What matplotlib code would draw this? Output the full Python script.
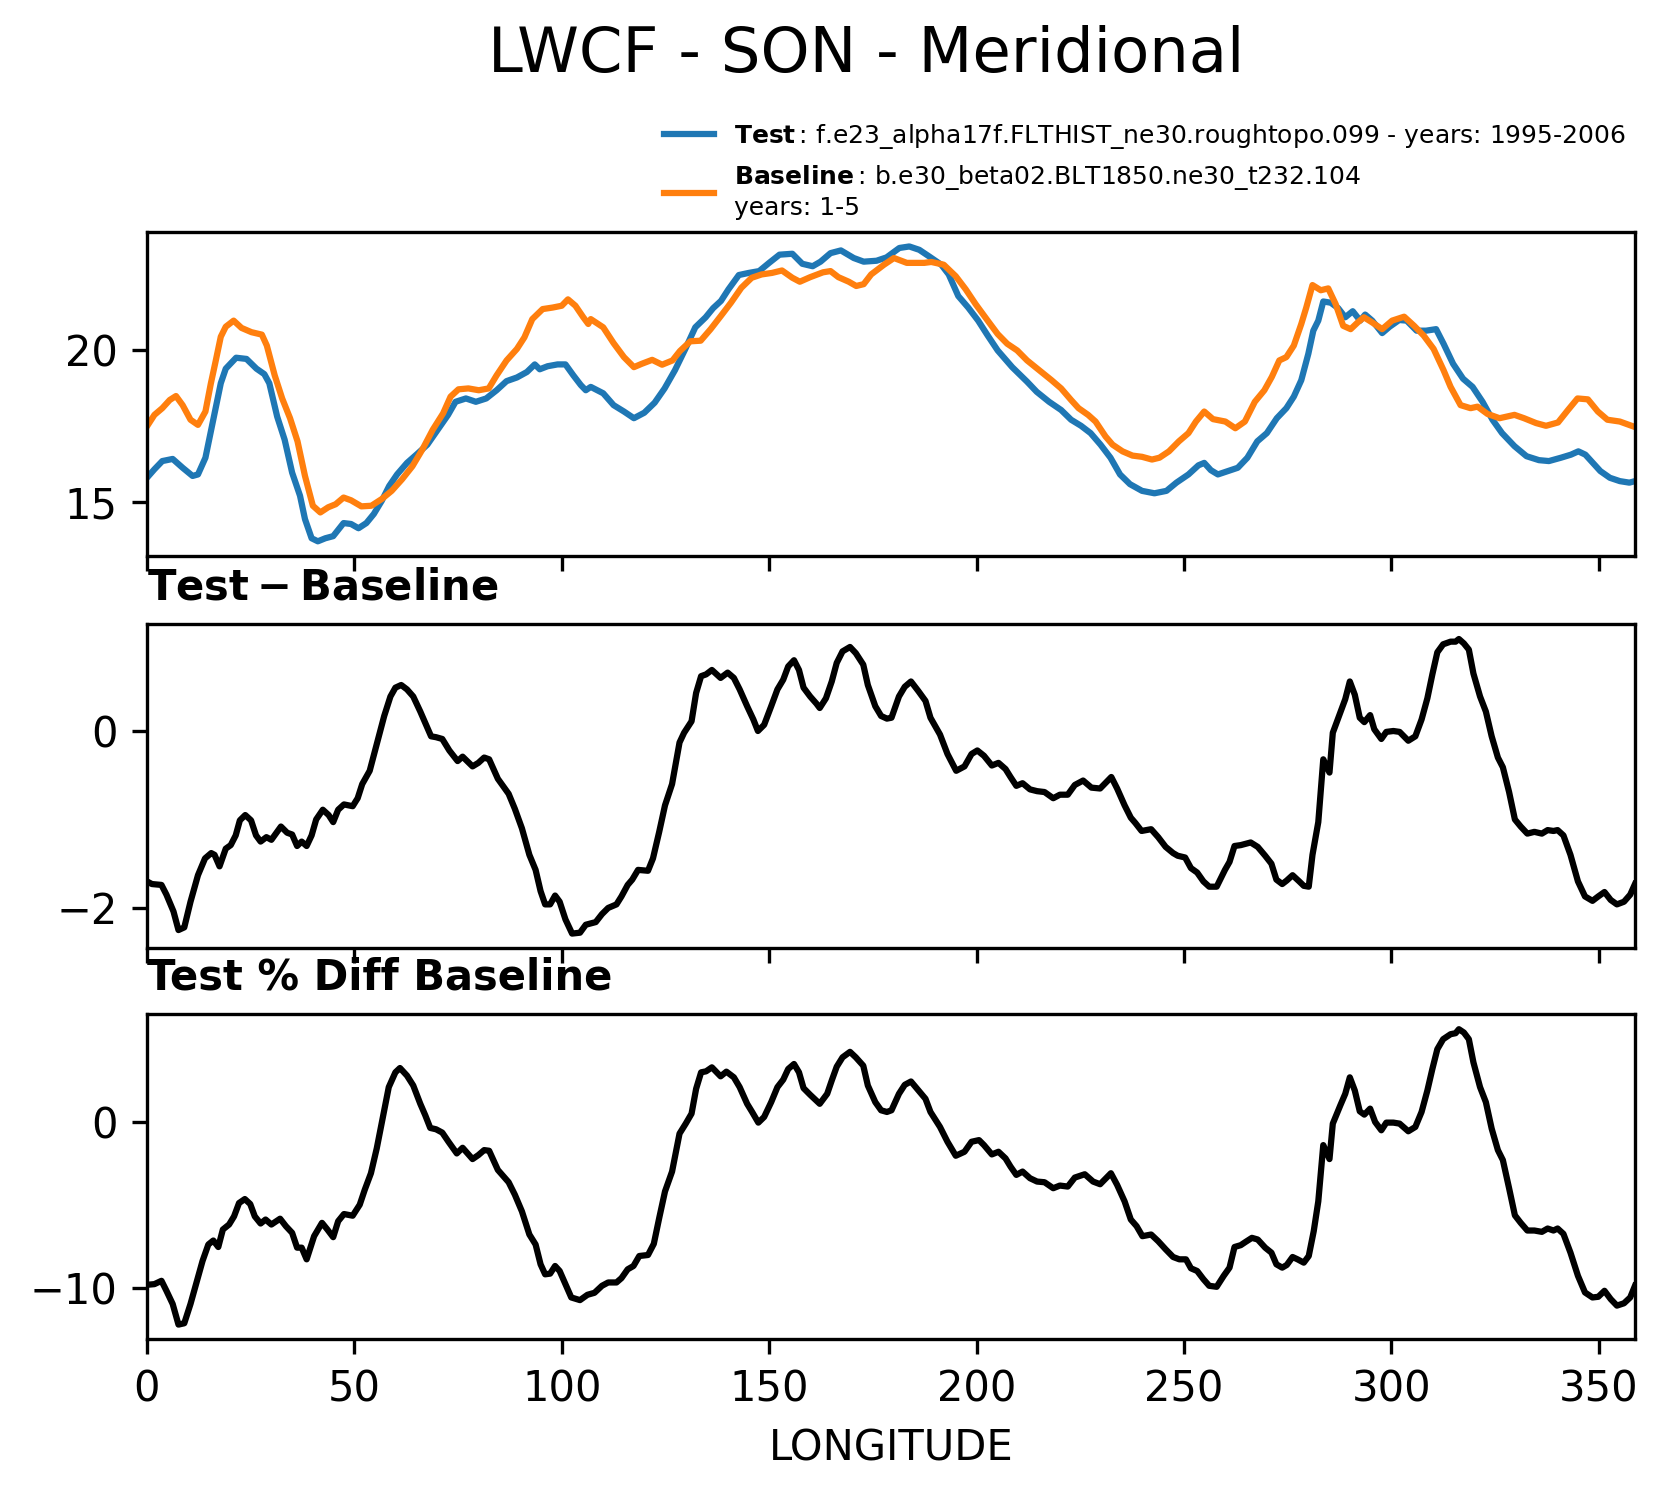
import matplotlib
matplotlib.use('Agg')
import matplotlib.pyplot as plt
import numpy as np

# longitude / LWCF (W/m2)
lon_test = [0, 1.8, 3.7, 6.2, 8.6, 11, 12.3, 14.1, 16, 17.8, 19, 21.5, 24, 26.4, 28.3, 29.5,
            31.4, 33.2, 35, 36.9, 38.1, 39.7, 41.2, 43, 44.9, 47.4, 49.2, 51, 52.9, 54.7,
            56.6, 58.4, 60.3, 62.7, 65.2, 67.6, 70.1, 72.6, 74.4, 76.9, 79.3, 81.8, 84.3,
            86.7, 89.2, 91.6, 93.5, 94.7, 96.6, 99, 100.9, 102.8, 104.6, 105.8, 107, 110,
            112.5, 115, 117.4, 119.9, 122.4, 124.8, 127.3, 129.8, 132.2, 134.7, 136.5,
            138.4, 140.2, 142.7, 145.1, 147.6, 150, 152.5, 155.6, 158, 160.5, 162.4,
            164.8, 167.3, 170.4, 172.8, 175.9, 178.3, 181.4, 183.8, 186.2, 188.5, 191.5,
            193.3, 195.6, 198, 200.4, 202.7, 205.1, 208.6, 212.2, 214.5, 217.5, 220.4,
            222.8, 225.2, 227.5, 229.9, 232.3, 234.6, 237, 239.9, 242.9, 245.8, 248.2,
            251.1, 253.5, 254.9, 256.5, 258.2, 260.6, 263, 265.3, 267.7, 270, 272.4,
            274.7, 276.5, 278.3, 280, 281.2, 282.4, 283.6, 285.4, 287.2, 288.9, 290.7,
            292.5, 293.7, 295.4, 297.8, 299.6, 301.9, 303.7, 306.1, 308.4, 310.8, 312.6,
            314.9, 317.3, 319.6, 322, 324.4, 326.7, 329.7, 332.6, 335.6, 338, 340.9,
            343.3, 345.1, 346.8, 348.6, 350.4, 352.7, 355.1, 357.4, 358.75]
test = [15.79, 16.07, 16.34, 16.41, 16.12, 15.85, 15.9, 16.45, 17.7, 18.9, 19.38, 19.74,
        19.7, 19.38, 19.2, 18.9, 17.8, 17.04, 15.96, 15.2, 14.43, 13.8, 13.7, 13.8, 13.87,
        14.3, 14.27, 14.13, 14.3, 14.6, 15.03, 15.52, 15.9, 16.28, 16.58, 16.88, 17.37,
        17.86, 18.29, 18.4, 18.29, 18.4, 18.67, 18.97, 19.09, 19.27, 19.52, 19.36, 19.46,
        19.52, 19.52, 19.16, 18.84, 18.67, 18.78, 18.57, 18.18, 17.97, 17.75, 17.93,
        18.26, 18.73, 19.33, 20.03, 20.74, 21.07, 21.37, 21.61, 21.99, 22.46, 22.53,
        22.59, 22.86, 23.13, 23.16, 22.83, 22.75, 22.9, 23.18, 23.27, 23.02, 22.9, 22.93,
        23.04, 23.35, 23.4, 23.29, 23.08, 22.8, 22.48, 21.77, 21.39, 20.96, 20.47, 19.98,
        19.43, 18.95, 18.62, 18.29, 18.02, 17.7, 17.5, 17.26, 16.88, 16.45, 15.9, 15.58,
        15.36, 15.28, 15.36, 15.63, 15.9, 16.2, 16.28, 16.04, 15.9, 16.01, 16.12, 16.45,
        16.99, 17.26, 17.75, 18.08, 18.46, 19.0, 19.87, 20.63, 20.96, 21.59, 21.55, 21.37,
        21.07, 21.27, 20.96, 21.16, 20.96, 20.55, 20.76, 20.98, 20.96, 20.63, 20.63,
        20.68, 20.2, 19.54, 19.05, 18.78, 18.29, 17.7, 17.26, 16.83, 16.5, 16.37, 16.34,
        16.45, 16.55, 16.66, 16.55, 16.28, 16.01, 15.79, 15.68, 15.63, 15.68]

lon_base = [0, 1.8, 3.7, 5.5, 7, 8.6, 10.5, 12.3, 14.1, 15.4, 16.6, 17.8, 19, 20.9, 22.8,
            25.2, 27.7, 28.9, 30.8, 32.6, 34.5, 36.3, 38.1, 40, 41.8, 43.7, 45.5, 47.4,
            49.2, 51.7, 54.1, 56.6, 59, 61.5, 64, 66.4, 68.9, 71.4, 73.2, 75.1, 77.5, 80,
            82.4, 84.3, 86.7, 89.2, 91, 92.9, 95.4, 97.8, 100, 101.5, 103.3, 105.2, 106.4,
            107, 110, 112.5, 115, 117.4, 119.3, 121.8, 124.2, 126.7, 128.5, 131, 133.5,
            135.9, 138.4, 140.8, 143.3, 145.8, 148.2, 150.7, 153.1, 155.6, 157.4, 159.9,
            163, 164.8, 166.7, 169.2, 171, 172.8, 174.6, 177.7, 180.1, 183.2, 185.6,
            187.4, 189.1, 192.1, 195, 197.4, 199.8, 202.7, 205.1, 207.4, 209.8, 212.2,
            215.1, 218.1, 220.4, 222.8, 224.6, 226.9, 228.7, 231.1, 232.8, 235.2, 237.6,
            239.9, 242.3, 244.1, 246.4, 248.8, 251.1, 252.9, 254.9, 257, 260, 262.4,
            264.7, 267.1, 269.4, 271.2, 273, 274.7, 276.5, 278.3, 279.5, 281, 283, 284.8,
            286.6, 288.4, 290.2, 291.9, 293.4, 295.4, 297.8, 300.2, 303.1, 305.5, 307.8,
            310.2, 312.6, 314.3, 316.7, 319.1, 320.8, 323.2, 326.1, 329.7, 332, 334.9,
            337.3, 340.2, 342.6, 344.9, 347.4, 349.8, 352.1, 355.1, 358.75]
base = [17.48, 17.86, 18.08, 18.35, 18.48, 18.18, 17.7, 17.53, 17.97, 18.89, 19.65, 20.43,
        20.76, 20.96, 20.72, 20.58, 20.5, 20.14, 19.16, 18.4, 17.75, 16.99, 15.85, 14.87,
        14.65, 14.82, 14.92, 15.14, 15.05, 14.85, 14.87, 15.09, 15.36, 15.74, 16.17, 16.72,
        17.37, 17.91, 18.46, 18.7, 18.73, 18.67, 18.73, 19.16, 19.65, 20.03, 20.41, 21.01,
        21.34, 21.39, 21.45, 21.66, 21.45, 21.07, 20.85, 21.01, 20.74, 20.22, 19.76,
        19.43, 19.54, 19.67, 19.51, 19.65, 19.96, 20.28, 20.3, 20.68, 21.12, 21.55, 22.04,
        22.37, 22.48, 22.53, 22.61, 22.37, 22.24, 22.39, 22.55, 22.59, 22.39, 22.24, 22.1,
        22.16, 22.48, 22.8, 23.02, 22.86, 22.86, 22.86, 22.89, 22.8, 22.42, 21.99, 21.5,
        20.96, 20.52, 20.2, 19.98, 19.65, 19.33, 19.0, 18.73, 18.35, 18.08, 17.86, 17.64,
        17.15, 16.88, 16.66, 16.52, 16.48, 16.39, 16.45, 16.66, 16.99, 17.26, 17.64,
        17.97, 17.72, 17.64, 17.42, 17.64, 18.29, 18.67, 19.11, 19.65, 19.76, 20.14,
        20.85, 21.39, 22.13, 21.96, 22.02, 21.5, 20.79, 20.68, 20.9, 21.07, 20.9, 20.68,
        20.96, 21.09, 20.79, 20.47, 20.03, 19.33, 18.78, 18.18, 18.08, 18.13, 17.89,
        17.75, 17.86, 17.75, 17.59, 17.5, 17.61, 18.02, 18.4, 18.37, 17.97, 17.7, 17.64,
        17.46]

# Test - Baseline
lon_diff = [0, 1.2, 3.5, 4.7, 6.4, 7.6, 9, 10.5, 12.3, 14, 15.5, 16.3, 17.5, 19, 20.2,
            21.4, 22.4, 23.7, 25.1, 26.3, 27.4, 28.8, 30, 32.3, 33.8, 35, 36.2, 37.3,
            38.5, 39.7, 40.8, 42.4, 43.8, 44.9, 46.1, 47.5, 49.6, 50.8, 51.9, 53.7, 55.4,
            57.2, 58.7, 59.9, 61.3, 62.7, 64.2, 65.9, 67.3, 68.5, 69.7, 71.2, 72.9, 74.9,
            76.1, 78.5, 79.9, 81.3, 82.5, 84.6, 87.2, 88.7, 90.4, 92.2, 93.7, 94.9, 96,
            97.2, 98.4, 99.5, 100.9, 102.5, 104.4, 105.8, 108.2, 109.7, 111.2, 113.2,
            114.4, 115.9, 117, 118.4, 120.8, 122, 123.5, 124.9, 126.6, 128.4, 129.5,
            131.3, 132.4, 133.6, 134.8, 136.2, 138.3, 140, 141.5, 142.9, 144.7, 146.2,
            147.3, 148.8, 150.5, 152, 153.4, 154.6, 156, 157.2, 158.3, 159.9, 161.4,
            162.2, 163.7, 165.1, 166.3, 167.7, 169.5, 170.9, 172.7, 173.8, 175.6, 177,
            178.4, 179.5, 181.3, 182.7, 184.2, 186, 187.7, 188.9, 191.2, 193, 195.1,
            197.1, 198.8, 200.2, 201.8, 203.7, 205.3, 207, 208.2, 209.6, 211.1, 212.9,
            214.6, 216.4, 218.5, 220.1, 222, 223.7, 225.7, 227.7, 229.8, 232.5, 233.9,
            235.7, 237.2, 238.3, 239.8, 242.1, 243.8, 245.6, 247.4, 248.5, 250.3, 251.7,
            253.2, 254.7, 256.1, 257.9, 259.9, 261, 262.2, 263.7, 266.1, 267.8, 269.6,
            271.1, 272.3, 273.7, 274.8, 276.2, 277.8, 278.9, 280.1, 281, 282.4, 283.6,
            285.1, 285.9, 287.7, 288.9, 290, 291.2, 292.4, 293.5, 294.9, 295.9, 297.6,
            298.8, 300.5, 302, 304.1, 305.8, 307.3, 308.7, 309.9, 311.1, 312.5, 314.3,
            315.5, 316.3, 317.5, 318.7, 319.8, 321.4, 322.8, 324.2, 325.7, 326.9, 328.4,
            329.8, 331.2, 332.8, 334.5, 336.3, 337.7, 339.1, 340.1, 341.5, 343.2, 345,
            346.7, 348.5, 349.9, 351.4, 352.9, 354.4, 356.1, 357.6, 358.75]
diff = [-1.70, -1.73, -1.74, -1.85, -2.04, -2.25, -2.22, -1.93, -1.63, -1.44, -1.38, -1.40,
        -1.53, -1.33, -1.29, -1.18, -1.01, -0.95, -1.01, -1.18, -1.25, -1.20, -1.23, -1.08,
        -1.15, -1.17, -1.30, -1.25, -1.30, -1.18, -1.00, -0.89, -0.95, -1.03, -0.89, -0.83,
        -0.85, -0.76, -0.60, -0.45, -0.15, 0.17, 0.39, 0.49, 0.52, 0.47, 0.39, 0.22, 0.07,
        -0.06, -0.07, -0.09, -0.22, -0.34, -0.29, -0.40, -0.36, -0.30, -0.32, -0.54, -0.71,
        -0.88, -1.10, -1.40, -1.57, -1.81, -1.96, -1.96, -1.86, -1.93, -2.13, -2.29, -2.28,
        -2.19, -2.16, -2.07, -2.00, -1.96, -1.87, -1.74, -1.68, -1.57, -1.58, -1.44, -1.14,
        -0.84, -0.60, -0.13, -0.02, 0.11, 0.43, 0.62, 0.64, 0.69, 0.60, 0.66, 0.60, 0.47,
        0.28, 0.13, 0.0, 0.07, 0.28, 0.47, 0.58, 0.73, 0.80, 0.69, 0.49, 0.39, 0.31, 0.26,
        0.37, 0.56, 0.77, 0.90, 0.95, 0.88, 0.75, 0.52, 0.28, 0.17, 0.14, 0.15, 0.39, 0.50,
        0.56, 0.45, 0.34, 0.15, -0.04, -0.26, -0.45, -0.40, -0.26, -0.22, -0.28, -0.39,
        -0.36, -0.43, -0.52, -0.62, -0.59, -0.66, -0.68, -0.69, -0.76, -0.72, -0.72, -0.61,
        -0.56, -0.64, -0.65, -0.52, -0.65, -0.84, -0.98, -1.04, -1.13, -1.11, -1.20, -1.31,
        -1.38, -1.41, -1.43, -1.55, -1.60, -1.70, -1.76, -1.76, -1.57, -1.48, -1.30, -1.29,
        -1.26, -1.31, -1.41, -1.50, -1.68, -1.73, -1.69, -1.63, -1.70, -1.75, -1.76, -1.40,
        -1.03, -0.32, -0.47, -0.02, 0.21, 0.36, 0.56, 0.41, 0.15, 0.10, 0.18, 0.02, -0.09,
        -0.01, 0.0, -0.01, -0.11, -0.06, 0.13, 0.37, 0.64, 0.89, 0.98, 1.01, 1.01, 1.04,
        0.99, 0.92, 0.65, 0.39, 0.22, -0.06, -0.30, -0.41, -0.69, -1.00, -1.08, -1.16,
        -1.14, -1.16, -1.12, -1.13, -1.12, -1.18, -1.40, -1.70, -1.87, -1.92, -1.87, -1.82,
        -1.91, -1.96, -1.93, -1.85, -1.73]

# Test % Diff Baseline
lon_pct = [0, 1.8, 3.5, 4.7, 6.2, 7.6, 9, 10.5, 12.3, 13.4, 14.8, 16, 17.2, 18.3, 19.8, 21,
           22.2, 23.6, 24.9, 26, 27.4, 28.6, 30, 32.1, 33.5, 35, 36.2, 37.3, 38.5, 40.3,
           42.2, 43.5, 44.9, 46.1, 47.5, 49.6, 51.3, 52.5, 54, 55.4, 56.8, 58.3, 59.9, 61,
           62.7, 64.2, 65.9, 67.1, 68.3, 69.7, 71.2, 72.7, 74.7, 76.1, 78.5, 79.9, 81.3,
           82.5, 84.6, 87.2, 88.7, 90.4, 92.2, 93.7, 94.9, 96, 97.2, 98.4, 99.5, 100.9,
           102.3, 104.4, 106.2, 107.9, 109.7, 111.2, 113.2, 114.4, 115.9, 117.3, 118.7,
           120.8, 122.2, 123.5, 124.9, 126.6, 128.4, 129.9, 131.3, 132.4, 133.6, 134.8,
           136.2, 138.3, 139.7, 141.5, 142.9, 144.7, 145.9, 147.4, 148.8, 150.5, 152,
           153.4, 154.6, 156, 157.2, 158.3, 159.9, 162.2, 164, 165.1, 166.3, 167.7, 169.5,
           170.9, 172.7, 173.8, 175.6, 177, 178.4, 179.5, 181.3, 182.7, 184.2, 186, 187.7,
           188.9, 191.2, 193, 195, 197.1, 198.8, 200.6, 201.8, 203.7, 205.3, 207, 208.2,
           209.6, 211.1, 212.9, 214.6, 216.4, 218.5, 220.1, 222, 223.7, 226.1, 228.1,
           229.8, 232.4, 233.9, 235.7, 237.2, 238.6, 240, 242.1, 243.8, 245.6, 247.4,
           248.9, 250.5, 251.7, 253.2, 254.7, 256.1, 257.9, 259.6, 261, 262.2, 263.7,
           264.9, 266.4, 267.8, 269.6, 271.1, 272.3, 273.7, 274.8, 276.2, 277.4, 278.9,
           280.1, 281.3, 282.4, 283.6, 285.1, 285.9, 287.7, 288.9, 290, 291.2, 292.4,
           293.5, 294.9, 296.1, 297.6, 298.8, 300.5, 302, 304.1, 305.8, 307.3, 308.7,
           309.9, 311.1, 312.5, 314.3, 315.5, 316.3, 317.5, 318.7, 319.8, 321.4, 322.8,
           324.2, 325.7, 326.9, 328.4, 329.8, 331.2, 332.8, 334.5, 336.3, 337.7, 339.1,
           340.1, 341.5, 343.2, 345, 346.7, 348.5, 349.9, 351.4, 352.9, 354.4, 356.1,
           357.6, 358.75]
pct = [-9.78, -9.74, -9.54, -10.14, -10.93, -12.17, -12.09, -10.93, -9.34, -8.35, -7.36,
       -7.12, -7.51, -6.46, -6.16, -5.67, -4.87, -4.63, -4.93, -5.67, -6.10, -5.86, -6.16,
       -5.81, -6.26, -6.66, -7.55, -7.55, -8.25, -6.86, -6.06, -6.46, -6.92, -5.96, -5.53,
       -5.63, -4.97, -4.08, -3.08, -1.59, 0.20, 2.09, 2.98, 3.24, 2.78, 2.19, 1.09, 0.40,
       -0.36, -0.44, -0.64, -1.19, -1.89, -1.55, -2.23, -1.99, -1.69, -1.73, -2.88, -3.62,
       -4.37, -5.37, -6.76, -7.36, -8.55, -9.15, -9.11, -8.65, -8.95, -9.74, -10.54,
       -10.70, -10.38, -10.26, -9.84, -9.64, -9.64, -9.38, -8.85, -8.65, -8.05, -7.99,
       -7.32, -5.77, -4.17, -2.98, -0.70, -0.10, 0.50, 1.99, 2.98, 3.04, 3.28, 2.74, 3.02,
       2.68, 2.09, 1.09, 0.60, -0.04, 0.30, 1.19, 2.09, 2.54, 3.18, 3.48, 2.98, 2.03, 1.63,
       1.09, 1.69, 2.49, 3.32, 3.88, 4.21, 3.88, 3.38, 2.19, 1.19, 0.70, 0.60, 0.70, 1.69,
       2.23, 2.43, 1.89, 1.39, 0.60, -0.30, -1.19, -2.03, -1.79, -1.19, -1.09, -1.39,
       -1.95, -1.79, -2.19, -2.68, -3.18, -2.98, -3.38, -3.58, -3.62, -3.98, -3.82, -3.88,
       -3.34, -3.14, -3.58, -3.74, -3.08, -3.78, -4.77, -5.86, -6.26, -6.86, -6.76, -7.16,
       -7.65, -8.11, -8.25, -8.25, -8.79, -8.95, -9.44, -9.84, -9.90, -9.24, -8.75, -7.51,
       -7.40, -7.20, -6.96, -7.06, -7.55, -7.85, -8.55, -8.75, -8.59, -8.11, -8.25, -8.45,
       -8.05, -6.56, -4.77, -1.39, -2.23, -0.10, 0.99, 1.69, 2.68, 1.89, 0.64, 0.44, 0.80,
       0.0, -0.50, -0.04, -0.04, -0.10, -0.56, -0.30, 0.60, 1.89, 3.18, 4.37, 4.97, 5.27,
       5.33, 5.57, 5.37, 4.97, 3.58, 2.09, 1.19, -0.40, -1.69, -2.29, -3.98, -5.61, -6.06,
       -6.52, -6.52, -6.60, -6.40, -6.52, -6.40, -6.72, -7.85, -9.24, -10.24, -10.54,
       -10.50, -10.14, -10.64, -11.03, -10.89, -10.54, -9.84]

test_name = 'f.e23_alpha17f.FLTHIST_ne30.roughtopo.099 - years: 1995-2006'
base_name = 'b.e30_beta02.BLT1850.ne30_t232.104\nyears: 1-5'

fig = plt.figure(figsize=(5.56, 4.9867), dpi=300)

ax1 = fig.add_axes([0.0881, 0.6283, 0.8921, 0.2168])
ax2 = fig.add_axes([0.0881, 0.3661, 0.8921, 0.2166])
ax3 = fig.add_axes([0.0881, 0.1047, 0.8921, 0.2172])

l1, = ax1.plot(lon_test, test, color='tab:blue', lw=1.5)
l2, = ax1.plot(lon_base, base, color='tab:orange', lw=1.5)
ax1.set_yticks([15, 20])

ax2.plot(lon_diff, diff, color='black', lw=1.5)
ax2.set_yticks([-2, 0])
ax2.set_title(r'$\mathbf{Test - Baseline}$', loc='left', fontsize=10)

ax3.plot(lon_pct, pct, color='black', lw=1.5)
ax3.set_yticks([-10, 0])
ax3.set_title('Test % Diff Baseline', loc='left', fontweight='bold', fontsize=10)

for ax in (ax1, ax2, ax3):
    ax.set_xlim(0, 358.75)
    ax.set_xticks([0, 50, 100, 150, 200, 250, 300, 350])
    ax.tick_params(labelsize=10)
for ax in (ax1, ax2):
    ax.set_xticklabels([])
ax3.set_xlabel('LONGITUDE', fontsize=10)

fig.legend([l1, l2],
           [r'$\bf{Test}\,$: ' + test_name, r'$\bf{Baseline}\,$: ' + base_name],
           loc='upper left', bbox_to_anchor=(0.398, 0.9185), frameon=False,
           fontsize=6, borderpad=0, borderaxespad=0, handlelength=2.0)

fig.text(0.519, 0.963, 'LWCF - SON - Meridional', ha='center', va='center', fontsize=15)

fig.savefig('out.png', dpi=300)
